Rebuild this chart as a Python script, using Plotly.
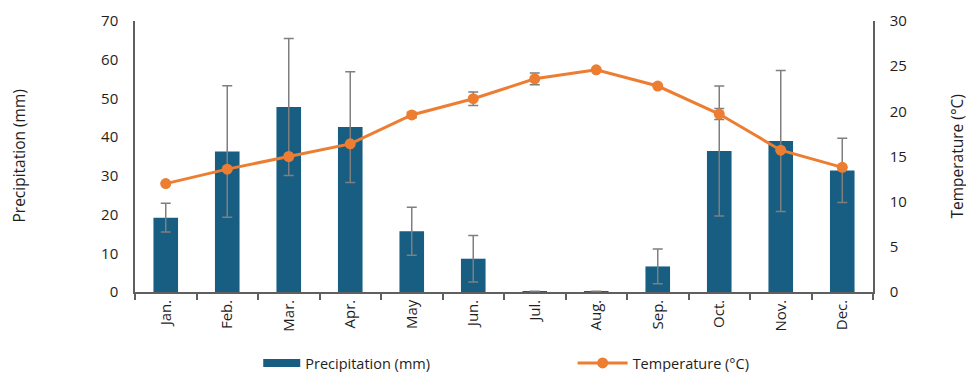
import plotly.graph_objects as go

months = ["Jan.", "Feb.", "Mar.", "Apr.", "May", "Jun.", "Jul.", "Aug.", "Sep.", "Oct.", "Nov.", "Dec."]
precip = [19.2, 36.3, 47.8, 42.6, 15.7, 8.6, 0.2, 0.2, 6.6, 36.4, 39.0, 31.4]
precip_err = [3.7, 17.0, 17.7, 14.3, 6.2, 6.0, 0.0, 0.0, 4.5, 16.8, 18.2, 8.3]
temp = [12.0, 13.6, 15.0, 16.4, 19.6, 21.4, 23.6, 24.6, 22.8, 19.7, 15.7, 13.8]
temp_err = [0.0, 0.0, 0.0, 0.0, 0.3, 0.75, 0.65, 0.0, 0.0, 0.6, 0.0, 0.0]

BAR = "#175E82"
LINE = "#ED7D31"
GRAY = "#7F7F7F"
AXIS = "#5F5F5F"
TXT = "#1E1E1E"

fig = go.Figure()
fig.add_trace(go.Bar(
    x=months, y=precip, name="Precipitation (mm)",
    marker=dict(color=BAR, line=dict(width=0)),
    error_y=dict(type="data", array=precip_err, visible=True, color=GRAY, thickness=1.5, width=5),
    showlegend=False,
))
# legend-only entry drawn as a wide rectangle like the reference
fig.add_trace(go.Scatter(
    x=[None], y=[None], name="Precipitation (mm)", mode="lines",
    line=dict(color=BAR, width=8), legend="legend", hoverinfo="skip",
))
fig.add_trace(go.Scatter(
    x=months, y=temp, name="Temperature (°C)", yaxis="y2",
    mode="lines+markers",
    line=dict(color=LINE, width=3),
    marker=dict(color=LINE, size=11),
    error_y=dict(type="data", array=temp_err, visible=True, color=GRAY, thickness=1.5, width=5),
    legend="legend2",
))

font = dict(family="Open Sans, Noto Sans, sans-serif", color=TXT)
fig.update_layout(
    width=966, height=372,
    margin=dict(l=135, r=93, t=21, b=80, autoexpand=False),
    paper_bgcolor="white", plot_bgcolor="white",
    font=dict(size=14, **font),
    bargap=0.6,
    showlegend=True,
    xaxis=dict(
        type="category", categoryorder="array", categoryarray=months,
        range=[-0.5, len(months) - 0.5],
        tickangle=-90, tickson="boundaries",
        ticks="outside", ticklen=6, tickcolor=AXIS, tickwidth=1.5,
        showline=True, linecolor=AXIS, linewidth=1.5,
        showgrid=False, tickfont=dict(size=15), automargin=False,
    ),
    yaxis=dict(
        range=[0, 70], dtick=10, showgrid=False, zeroline=False,
        showline=True, linecolor=AXIS, linewidth=1.5,
        ticks="", ticklabelstandoff=12,
        tickfont=dict(size=15), automargin=False,
    ),
    yaxis2=dict(
        range=[0, 30], dtick=5, overlaying="y", side="right",
        showgrid=False, zeroline=False,
        showline=True, linecolor=AXIS, linewidth=1.5,
        ticks="", ticklabelstandoff=12,
        tickfont=dict(size=15), automargin=False,
    ),
    legend=dict(x=0.167, y=-0.262, xanchor="left", yanchor="middle",
                orientation="h", font=dict(size=14.5), bgcolor="rgba(0,0,0,0)",
                itemwidth=37),
    legend2=dict(x=0.593, y=-0.262, xanchor="left", yanchor="middle",
                 orientation="h", font=dict(size=14.5), bgcolor="rgba(0,0,0,0)",
                 itemwidth=50),
    annotations=[
        dict(text="Precipitation (mm)", xref="paper", yref="paper",
             x=(18 - 135) / 738, y=0.5, textangle=-90, showarrow=False,
             font=dict(size=15.5), xanchor="center", yanchor="middle"),
        dict(text="Temperature (°C)", xref="paper", yref="paper",
             x=(956 - 135) / 738, y=0.5, textangle=-90, showarrow=False,
             font=dict(size=15.5), xanchor="center", yanchor="middle"),
    ],
)

fig.write_html(
    "out.html",
    config={"displayModeBar": False},
    post_script="document.body.style.margin='0';document.body.style.overflow='hidden';",
)
